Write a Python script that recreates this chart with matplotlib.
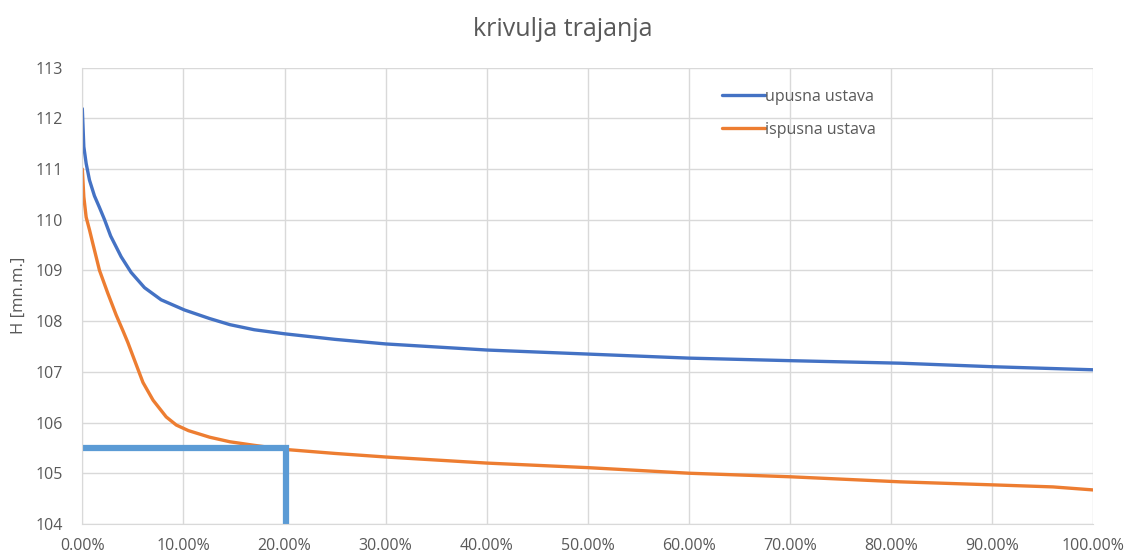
import matplotlib.pyplot as plt
from matplotlib.ticker import FuncFormatter

# duration curve values (x in % of time, H in m a.s.l.)
x_upusna = [0.0, 0.15, 0.38, 0.71, 1.2, 1.7, 2.2, 2.8, 3.84, 4.83, 6.15, 7.8, 10.1,
            12.6, 14.6, 17.0, 20.0, 25.0, 30.0, 35.0, 40.0, 45.0, 50.0, 60.0, 70.0,
            80.9, 90.1, 100.0]
h_upusna = [112.19, 111.44, 111.11, 110.78, 110.47, 110.24, 110.0, 109.68, 109.27,
            108.96, 108.66, 108.42, 108.22, 108.05, 107.93, 107.83, 107.75, 107.64,
            107.55, 107.49, 107.43, 107.39, 107.35, 107.27, 107.22, 107.17, 107.1, 107.04]

x_ispusna = [0.0, 0.15, 0.38, 0.71, 1.04, 1.7, 2.52, 3.35, 4.04, 4.5, 5.03, 6.0, 7.0,
             8.3, 9.3, 10.5, 12.6, 14.6, 17.0, 20.0, 25.0, 30.0, 40.0, 50.0, 60.0,
             70.0, 80.9, 90.1, 96.0, 100.0]
h_ispusna = [111.0, 110.45, 110.05, 109.8, 109.53, 109.0, 108.55, 108.12, 107.8, 107.58,
             107.3, 106.79, 106.44, 106.11, 105.95, 105.84, 105.71, 105.62, 105.55, 105.47,
             105.39, 105.32, 105.2, 105.11, 105.0, 104.93, 104.83, 104.77, 104.73, 104.67]

# marked level / duration
mark_x = [0.0, 20.1, 20.1]
mark_h = [105.5, 105.5, 104.0]

txt = '#595959'
grid = '#d9d9d9'
plt.rcParams['font.family'] = ['Open Sans', 'DejaVu Sans']

fig = plt.figure(figsize=(11.26, 5.56), dpi=100)
ax = fig.add_axes([0.0731, 0.0577, 0.8979, 0.8207])

ax.plot(x_upusna, h_upusna, color='#4472C4', lw=2.4, label='upusna ustava',
        solid_capstyle='round', solid_joinstyle='round')
ax.plot(x_ispusna, h_ispusna, color='#ED7D31', lw=2.4, label='ispusna ustava',
        solid_capstyle='round', solid_joinstyle='round')
ax.plot(mark_x, mark_h, color='#5B9BD5', lw=4.5, solid_joinstyle='miter', solid_capstyle='butt')

ax.set_xlim(0, 100)
ax.set_ylim(104, 113)
ax.set_xticks(range(0, 101, 10))
ax.set_yticks(range(104, 114))
ax.xaxis.set_major_formatter(FuncFormatter(lambda v, p: f'{v:.2f}%'))
ax.grid(True, color=grid, lw=1)
ax.set_axisbelow(True)
for s in ax.spines.values():
    s.set_visible(False)
ax.spines['left'].set_visible(True)
ax.spines['bottom'].set_visible(True)
ax.spines['left'].set_color(grid)
ax.spines['bottom'].set_color(grid)
ax.tick_params(axis='x', length=0, colors=txt, labelsize=11.5, pad=10)
ax.tick_params(axis='y', length=0, colors=txt, labelsize=11.5, pad=14)

ax.set_ylabel('H [mn.m.]', color=txt, fontsize=12, labelpad=6)
fig.suptitle('krivulja trajanja', color=txt, fontsize=18, y=0.97)

leg = ax.legend(loc='upper left', bbox_to_anchor=(0.618, 0.985), frameon=False,
                fontsize=11.5, handlelength=2.7, handletextpad=0.05, labelspacing=1.05)
for t in leg.get_texts():
    t.set_color(txt)

fig.savefig('out.png', dpi=100, facecolor='white')
